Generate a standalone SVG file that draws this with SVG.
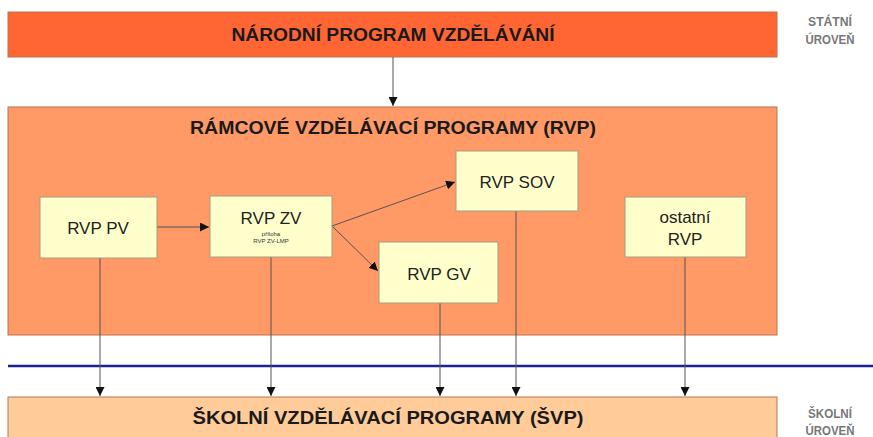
<svg xmlns="http://www.w3.org/2000/svg" width="873" height="437" viewBox="0 0 873 437">
<style>
.band{stroke:#b8754f;stroke-width:1}
.title{font-family:"Liberation Sans",Arial,sans-serif;font-weight:bold;font-size:18px;fill:#1a1a1a;text-anchor:middle}
.node{fill:#ffffcc;stroke:#a89a80;stroke-width:1}
.nt{font-family:"Liberation Sans",Arial,sans-serif;font-size:17px;fill:#222;text-anchor:middle}
.small{font-family:"Liberation Sans",Arial,sans-serif;font-size:6px;fill:#333;text-anchor:middle}
.side{font-family:"Liberation Sans",Arial,sans-serif;font-weight:bold;font-size:13px;fill:#777;text-anchor:middle}
.conn{stroke:#555;stroke-width:1;fill:none}
</style>
<defs>
<marker id="ah" viewBox="0 0 10 10" refX="10" refY="5" markerWidth="9" markerHeight="9" markerUnits="userSpaceOnUse" orient="auto">
<path d="M0,0 L10,5 L0,10 z" fill="#111"/>
</marker>
</defs>
<rect width="873" height="437" fill="#ffffff"/>
<g id="narodni">
<rect class="band" x="8" y="12" width="769" height="45" fill="#ff6633"/>
<text class="title" x="393" y="41" textLength="323" lengthAdjust="spacingAndGlyphs">NÁRODNÍ PROGRAM VZDĚLÁVÁNÍ</text>
</g>
<g id="rvp">
<rect class="band" x="8" y="107" width="769" height="228" fill="#ff9966"/>
<text class="title" x="393" y="134" textLength="406" lengthAdjust="spacingAndGlyphs">RÁMCOVÉ VZDĚLÁVACÍ PROGRAMY (RVP)</text>
</g>
<g id="svp">
<rect class="band" x="8" y="397" width="769" height="45" fill="#ffcc99"/>
<text class="title" x="388" y="424" textLength="391" lengthAdjust="spacingAndGlyphs">ŠKOLNÍ VZDĚLÁVACÍ PROGRAMY (ŠVP)</text>
</g>
<g id="levels">
<text class="side" x="830" y="26" textLength="44" lengthAdjust="spacingAndGlyphs">STÁTNÍ</text>
<text class="side" x="830" y="44" textLength="49" lengthAdjust="spacingAndGlyphs">ÚROVEŇ</text>
<text class="side" x="830" y="418" textLength="44" lengthAdjust="spacingAndGlyphs">ŠKOLNÍ</text>
<text class="side" x="830" y="435" textLength="49" lengthAdjust="spacingAndGlyphs">ÚROVEŇ</text>
</g>
<line x1="8" y1="366" x2="873" y2="366" stroke="#1c2196" stroke-width="2.5"/>
<g id="connectors">
<line class="conn" x1="393" y1="57" x2="393" y2="106" marker-end="url(#ah)"/>
<line class="conn" x1="157" y1="227" x2="209" y2="227" marker-end="url(#ah)"/>
<line class="conn" x1="332" y1="226" x2="455" y2="182" marker-end="url(#ah)"/>
<line class="conn" x1="332" y1="226" x2="378" y2="271" marker-end="url(#ah)"/>
<line class="conn" x1="100" y1="258" x2="100" y2="396" marker-end="url(#ah)"/>
<line class="conn" x1="271" y1="257" x2="271" y2="396" marker-end="url(#ah)"/>
<line class="conn" x1="440" y1="303" x2="440" y2="396" marker-end="url(#ah)"/>
<line class="conn" x1="516" y1="211" x2="516" y2="396" marker-end="url(#ah)"/>
<line class="conn" x1="685" y1="257" x2="685" y2="396" marker-end="url(#ah)"/>
</g>
<g id="rvp-pv">
<rect class="node" x="40" y="197" width="117" height="61"/>
<text class="nt" x="98" y="234">RVP PV</text>
</g>
<g id="rvp-zv">
<rect class="node" x="210" y="196" width="122" height="61"/>
<text class="nt" x="271" y="224">RVP ZV</text>
<text class="small" x="271" y="236">příloha</text>
<text class="small" x="271" y="243">RVP ZV-LMP</text>
</g>
<g id="rvp-sov">
<rect class="node" x="456" y="151" width="122" height="60"/>
<text class="nt" x="517" y="188">RVP SOV</text>
</g>
<g id="rvp-gv">
<rect class="node" x="379" y="242" width="119" height="61"/>
<text class="nt" x="439" y="280">RVP GV</text>
</g>
<g id="ostatni">
<rect class="node" x="625" y="197" width="121" height="60"/>
<text class="nt" x="685" y="223">ostatní</text>
<text class="nt" x="685" y="245">RVP</text>
</g>
</svg>
